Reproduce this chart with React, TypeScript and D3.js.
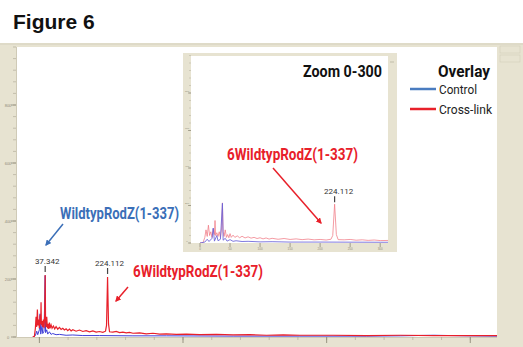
import React from 'react';
import * as d3 from 'd3';

// spectrum values (m/z-like position, intensity)
const crossLinkMz = [0, 5, 8, 10, 12, 14, 16, 18, 20, 22, 24, 25, 26, 28, 30, 32, 34, 36, 37.342, 38.5, 40, 42, 44, 46, 48, 50, 52, 55, 58, 62, 66, 70, 75, 80, 85, 90, 95, 100, 105, 110, 115, 120, 130, 140, 150, 160, 170, 180, 190, 200, 210, 218, 221, 224.112, 227, 230, 240, 250, 260, 270, 280, 290, 300, 320, 340, 360, 380, 400, 430, 460, 500, 550, 600, 650, 700, 750, 800, 900, 1000, 1100, 1200, 1300, 1390];
const crossLinkIntensity = [0, 2, 30, 70, 35, 95, 40, 60, 30, 75, 45, 120, 40, 55, 35, 60, 30, 80, 214, 60, 35, 70, 30, 45, 28, 50, 30, 42, 30, 38, 28, 36, 27, 33, 26, 30, 24, 28, 22, 27, 21, 25, 20, 24, 19, 22, 18, 21, 17, 19, 16, 20, 40, 207, 45, 18, 17, 19, 15, 17, 14, 16, 13, 14, 11, 13, 10, 11, 9, 10, 8, 9, 7, 8, 6, 7, 6, 6, 5, 6, 5, 5, 5];
const controlMz = [0, 8, 12, 15, 20, 22, 24, 28, 30, 34, 37.342, 38.5, 42, 45, 50, 55, 60, 70, 80, 100, 120, 150, 200, 300, 400, 600, 800, 1000, 1100, 1200, 1300, 1390];
const controlIntensity = [0, 5, 20, 8, 25, 80, 10, 40, 12, 20, 212, 15, 25, 10, 18, 9, 12, 8, 9, 6, 7, 5, 5, 4, 4, 3, 3, 3, 4, 6, 4, 3];

const peakLabels = ['37.342', '224.112'];
const mainXTicks = [20, 450, 880, 1310];
const mainYTicks = [0, 200, 400, 600, 800];
const zoomXTicks = [0, 50, 100, 150, 200, 250, 300];
const zoomYTicks = [0, 200, 400, 600, 800];
const legendLabels = ['Control', 'Cross-link'];

const BEIGE = '#e7e3d1';
const RED = '#e8202a';
const BLUE = '#3b6fb8';
const narrow = '"Liberation Sans Narrow", Roboto, sans-serif';

function peakHeight(mz: number) {
  const i = crossLinkMz.indexOf(mz);
  return crossLinkIntensity[i];
}

export default function App() {
  const width = 523;
  const height = 347;

  // main plot
  const x = d3.scaleLinear().domain([-50, 1390]).range([16, 497]);
  const y = d3.scaleLinear().domain([0, 1000]).range([337, 47]);
  // zoom 0-300 inset
  const zx = d3.scaleLinear().domain([-15, 313]).range([191, 388]);
  const zy = d3.scaleLinear().domain([0, 1000]).range([243, 55.5]);

  const red = crossLinkMz.map((m, i) => [m, crossLinkIntensity[i]] as [number, number]);
  const blue = controlMz.map((m, i) => [m, controlIntensity[i]] as [number, number]);

  const mainLine = d3.line<[number, number]>().x((d) => x(d[0])).y((d) => y(d[1]));
  const zoomLine = d3.line<[number, number]>().x((d) => zx(d[0])).y((d) => zy(d[1]));

  const mainMinorY = d3.range(0, 1001, 40);
  const mainMinorX = d3.range(20, 1390, 86);
  const zoomMinorY = d3.range(0, 1001, 40);

  const p1 = Number(peakLabels[0]);
  const p2 = Number(peakLabels[1]);

  return (
    <svg width={width} height={height} style={{ position: 'absolute', left: 0, top: 0, background: '#fff' }}>
      <defs>
        <marker id="ahBlue" viewBox="0 0 10 10" refX="8" refY="5" markerWidth="4" markerHeight="4" orient="auto">
          <path d="M0,0 L10,5 L0,10 z" fill={BLUE} />
        </marker>
        <marker id="ahRed" viewBox="0 0 10 10" refX="8" refY="5" markerWidth="4" markerHeight="4" orient="auto">
          <path d="M0,0 L10,5 L0,10 z" fill={RED} />
        </marker>
        <clipPath id="mainClip">
          <rect x={16} y={47} width={481} height={290} />
        </clipPath>
        <clipPath id="zoomClip">
          <rect x={191} y={56} width={197} height={187} />
        </clipPath>
      </defs>

      <text x={13} y={29} fontFamily="Liberation Sans, Arial, sans-serif" fontWeight="bold" fontSize={21} fill="#111">
        Figure 6
      </text>

      {/* frame */}
      <rect x={0} y={43} width={width} height={height - 43} fill={BEIGE} />
      <line x1={0} x2={width} y1={44} y2={44} stroke="#d6d2bf" strokeWidth={1} />
      <rect x={16} y={47} width={481} height={290} fill="#fff" />
      <line x1={16.5} x2={16.5} y1={47} y2={337} stroke="#cfcab6" strokeWidth={1} />
      <line x1={16} x2={497} y1={337.5} y2={337.5} stroke="#cfcab6" strokeWidth={1} />

      {/* main y axis */}
      {mainMinorY.map((t) => (
        <line key={'my' + t} x1={13} x2={16} y1={y(t)} y2={y(t)} stroke="#a9a592" strokeWidth={0.6} />
      ))}
      {mainYTicks.map((t) => (
        <g key={'mY' + t}>
          <line x1={11} x2={16} y1={y(t)} y2={y(t)} stroke="#8f8b78" strokeWidth={0.8} />
          <text x={8} y={y(t) + 1.5} fontSize={4} fill="#8f8b78" textAnchor="middle" fontFamily="sans-serif">
            {t}
          </text>
        </g>
      ))}
      {/* main x axis */}
      {mainMinorX.map((t) => (
        <line key={'mx' + t} x1={x(t)} x2={x(t)} y1={337} y2={340} stroke="#a9a592" strokeWidth={0.6} />
      ))}
      {mainXTicks.map((t) => (
        <line key={'mX' + t} x1={x(t)} x2={x(t)} y1={337} y2={343} stroke="#8f8b78" strokeWidth={0.9} />
      ))}

      {/* main spectra */}
      <g clipPath="url(#mainClip)">
        <path d={mainLine(blue) || ''} fill="none" stroke="#4040d8" strokeWidth={1} />
        <path d={mainLine(red) || ''} fill="none" stroke={RED} strokeWidth={1.2} />
      </g>

      {/* peak labels main */}
      {[p1, p2].map((p, i) => {
        const top = y(peakHeight(p));
        return (
          <g key={'pk' + i}>
            <text x={x(p) + 2} y={top - 11} fontSize={8} fill="#333" textAnchor="middle" fontFamily={narrow}>
              {peakLabels[i]}
            </text>
            <line x1={x(p)} x2={x(p)} y1={top - 9} y2={top - 3} stroke="#444" strokeWidth={1.2} />
          </g>
        );
      })}

      {/* main annotations */}
      <text x={60} y={219} fontSize={16} fontWeight="bold" fill={BLUE} fontFamily={narrow} textLength={119} lengthAdjust="spacingAndGlyphs">
        WildtypRodZ(1-337)
      </text>
      <line x1={63} y1={224} x2={46} y2={245} stroke={BLUE} strokeWidth={1.5} markerEnd="url(#ahBlue)" />
      <text x={133} y={277} fontSize={16} fontWeight="bold" fill={RED} fontFamily={narrow} textLength={130} lengthAdjust="spacingAndGlyphs">
        6WildtypRodZ(1-337)
      </text>
      <line x1={128} y1={287} x2={116} y2={301} stroke={RED} strokeWidth={1.5} markerEnd="url(#ahRed)" />

      {/* inset */}
      <rect x={183} y={53} width={214} height={199} fill={BEIGE} />
      <rect x={191} y={56} width={197} height={187} fill="#fff" />
      {zoomMinorY.map((t) => (
        <line key={'zy' + t} x1={189} x2={191} y1={zy(t)} y2={zy(t)} stroke="#b3af9c" strokeWidth={0.5} />
      ))}
      {zoomYTicks.map((t) => (
        <g key={'zY' + t}>
          <line x1={188} x2={191} y1={zy(t)} y2={zy(t)} stroke="#8f8b78" strokeWidth={0.7} />
          <text x={187} y={zy(t) - 1.5} fontSize={2.5} fill="#8f8b78" textAnchor="middle" fontFamily="sans-serif">
            {t}
          </text>
        </g>
      ))}
      {zoomXTicks.map((t) => (
        <g key={'zX' + t}>
          <line x1={zx(t)} x2={zx(t)} y1={243} y2={247} stroke="#8f8b78" strokeWidth={0.8} />
          <text x={zx(t)} y={250} fontSize={3} fill="#8f8b78" textAnchor="middle" fontFamily="sans-serif">
            {t}
          </text>
        </g>
      ))}
      <line x1={390} x2={394} y1={62} y2={62} stroke="#a9a592" strokeWidth={0.6} />
      <g clipPath="url(#zoomClip)">
        <path d={zoomLine(red) || ''} fill="none" stroke="#f07a84" strokeWidth={1} strokeOpacity={0.75} />
        <path d={zoomLine(blue) || ''} fill="none" stroke="#6a62d8" strokeWidth={1} strokeOpacity={0.85} />
      </g>
      <text x={zx(p2) + 4} y={zy(peakHeight(p2)) - 10} fontSize={8} fill="#333" textAnchor="middle" fontFamily={narrow}>
        {peakLabels[1]}
      </text>
      <line x1={zx(p2)} x2={zx(p2)} y1={zy(peakHeight(p2)) - 8} y2={zy(peakHeight(p2)) - 2} stroke="#444" strokeWidth={1.2} />

      <text x={382} y={77} fontSize={16} fontWeight="bold" fill="#111" textAnchor="end" fontFamily={narrow} textLength={79} lengthAdjust="spacingAndGlyphs">
        Zoom 0-300
      </text>
      <text x={227} y={160} fontSize={16} fontWeight="bold" fill={RED} fontFamily={narrow} textLength={131} lengthAdjust="spacingAndGlyphs">
        6WildtypRodZ(1-337)
      </text>
      <line x1={273} y1={168} x2={321} y2={223} stroke={RED} strokeWidth={1.5} markerEnd="url(#ahRed)" />

      {/* legend */}
      <text x={438} y={77} fontSize={17} fontWeight="bold" fill="#111" fontFamily={narrow} textLength={52} lengthAdjust="spacingAndGlyphs">
        Overlay
      </text>
      {legendLabels.map((l, i) => (
        <g key={l}>
          <line x1={410} x2={436} y1={89 + i * 20} y2={89 + i * 20} stroke={i === 0 ? '#4a7cc0' : RED} strokeWidth={2.5} />
          <text x={439} y={94 + i * 20} fontSize={12} fill="#222" fontFamily={narrow} textLength={i === 0 ? 38 : 53} lengthAdjust="spacingAndGlyphs">
            {l}
          </text>
        </g>
      ))}

      {/* tiny toolbar boxes at top right */}
      <rect x={500} y={46} width={20} height={7} fill="none" stroke="#cfcab6" strokeWidth={0.5} />
      <rect x={500} y={55} width={20} height={7} fill="none" stroke="#cfcab6" strokeWidth={0.5} />
    </svg>
  );
}
